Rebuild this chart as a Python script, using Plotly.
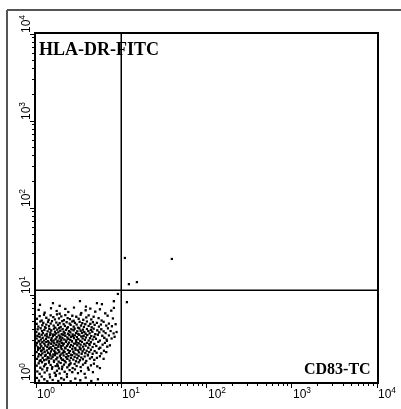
import math
import plotly.graph_objects as go

# Channel values (0-1023 on a 4-decade log scale) for CD83-TC (x) and HLA-DR-FITC (y)
cd83_ch = [
    # FL1 220-240
    12, 51, 71, 132, 150, 183, 198, 234,
    # FL1 200-220
    8, 26, 45, 62, 71, 88, 97, 114, 136, 149, 163, 178, 192, 208, 226,
    # FL1 180-200
    3, 11, 17, 24, 31, 38, 44, 52, 57, 63, 69, 76, 84, 88, 95, 102, 109, 113, 121, 128,
    134, 142, 151, 158, 166, 173, 188, 197, 215, 231,
    # FL1 160-180
    2, 7, 13, 19, 22, 27, 31, 36, 39, 44, 48, 53, 58, 61, 66, 71, 74, 79, 83, 87, 92, 96,
    101, 104, 109, 113, 117, 122, 126, 131, 135, 139, 144, 148, 153, 158, 163, 167, 171,
    176, 183, 189, 195, 203, 211, 219, 228, 239,
    # FL1 140-160
    1, 5, 9, 14, 18, 21, 25, 29, 32, 35, 40, 43, 46, 50, 54, 57, 60, 64, 67, 70, 73, 77,
    80, 83, 86, 90, 93, 96, 99, 103, 106, 110, 113, 116, 120, 124, 127, 130, 134, 138,
    141, 145, 149, 153, 157, 161, 165, 169, 173, 178, 184, 190, 196, 203, 209, 216, 224,
    233, 242,
    # FL1 120-140
    2, 4, 8, 11, 15, 17, 20, 24, 27, 30, 33, 36, 38, 42, 45, 47, 51, 53, 56, 59, 62, 65,
    68, 71, 73, 76, 79, 82, 85, 88, 91, 94, 97, 100, 103, 105, 108, 111, 114, 117, 120,
    123, 127, 130, 133, 136, 140, 143, 147, 150, 154, 158, 162, 166, 170, 175, 180, 186,
    192, 199, 205, 212, 219, 227, 236, 213,
    # FL1 100-120
    1, 3, 6, 10, 13, 16, 19, 22, 25, 28, 31, 34, 37, 40, 43, 46, 49, 52, 55, 58, 61, 64,
    67, 70, 72, 75, 78, 81, 84, 87, 90, 93, 96, 99, 102, 105, 108, 111, 114, 118, 121,
    124, 128, 131, 134, 138, 141, 145, 149, 153, 157, 161, 165, 170, 175, 181, 187, 193,
    200, 207, 214, 222, 160, 118, 76, 44,
    # FL1 80-100
    2, 6, 9, 12, 15, 19, 23, 26, 29, 33, 36, 39, 42, 45, 48, 52, 55, 58, 61, 64, 67, 70,
    74, 77, 80, 83, 86, 89, 92, 96, 99, 102, 105, 109, 112, 115, 119, 122, 126, 129, 133,
    137, 140, 144, 148, 152, 156, 160, 165, 170, 176, 182, 189, 196, 204, 211, 134, 57, 18,
    # FL1 60-80
    3, 7, 11, 15, 20, 24, 27, 31, 35, 39, 43, 46, 50, 54, 57, 61, 64, 68, 72, 75, 79, 83,
    86, 90, 94, 97, 101, 105, 108, 112, 116, 120, 124, 128, 132, 136, 141, 146, 151, 156,
    162, 168, 175, 183, 192, 203, 81, 38, 14,
    # FL1 40-60
    2, 8, 13, 18, 24, 29, 34, 39, 44, 49, 54, 59, 64, 69, 74, 79, 84, 89, 94, 99, 104,
    110, 116, 122, 128, 134, 141, 148, 156, 165, 174, 184, 27, 66, 101, 192,
    # FL1 20-40
    4, 11, 19, 26, 33, 41, 48, 56, 63, 71, 78, 86, 93, 101, 109, 117, 126, 135, 146, 158,
    171, 60,
    # FL1 0-20
    3, 9, 17, 25, 34, 42, 50, 59, 67, 76, 84, 93, 104, 118, 133, 149, 166, 186,
    # events outside the main population
    408, 279, 303, 246, 234, 273, 234, 267,
]

hladr_ch = [
    # FL1 220-240
    227, 232, 224, 238, 222, 232, 229, 238,
    # FL1 200-220
    212, 204, 217, 209, 201, 215, 206, 219, 203, 211, 216, 207, 214, 202, 210,
    # FL1 180-200
    186, 194, 181, 198, 189, 183, 196, 191, 184, 199, 187, 193, 182, 197, 188, 185, 195,
    180, 192, 186, 198, 183, 190, 196, 184, 192, 188, 181, 195, 187,
    # FL1 160-180
    171, 163, 178, 167, 174, 161, 169, 177, 164, 172, 179, 166, 160, 175, 168, 173, 162,
    179, 170, 165, 176, 161, 172, 168, 178, 163, 174, 169, 160, 177, 166, 173, 162, 170,
    178, 165, 171, 161, 176, 168, 174, 163, 169, 177, 166, 172, 164, 170,
    # FL1 140-160
    147, 155, 142, 158, 150, 144, 153, 159, 141, 149, 156, 145, 152, 140, 157, 148, 143,
    154, 146, 159, 151, 141, 156, 148, 144, 153, 158, 142, 150, 146, 155, 140, 152, 157,
    144, 149, 141, 158, 151, 145, 154, 147, 142, 156, 150, 143, 153, 148, 157, 141, 152,
    146, 155, 149, 144, 158, 150, 143, 147,
    # FL1 120-140
    128, 136, 121, 133, 125, 139, 130, 122, 137, 127, 134, 120, 131, 138, 124, 129, 135,
    122, 139, 126, 132, 121, 137, 128, 134, 123, 130, 139, 125, 136, 122, 131, 127, 138,
    124, 133, 120, 135, 129, 137, 123, 132, 126, 139, 121, 134, 128, 136, 124, 131, 138,
    122, 129, 135, 125, 133, 127, 139, 122, 136, 130, 125, 137, 128, 133, 121,
    # FL1 100-120
    108, 115, 102, 119, 111, 105, 117, 100, 113, 107, 118, 103, 110, 116, 101, 112, 119,
    106, 114, 100, 109, 117, 104, 111, 119, 102, 115, 108, 113, 101, 118, 106, 111, 116,
    103, 109, 119, 105, 113, 100, 117, 108, 114, 102, 110, 118, 104, 112, 107, 115, 101,
    109, 117, 103, 112, 106, 118, 101, 110, 115, 104, 108, 112, 113, 106, 102,
    # FL1 80-100
    88, 95, 82, 99, 91, 84, 97, 89, 80, 93, 86, 98, 83, 90, 96, 81, 92, 87, 99, 84, 94,
    89, 81, 97, 85, 92, 88, 99, 82, 94, 86, 91, 80, 97, 89, 84, 95, 81, 93, 87, 98, 83,
    90, 96, 85, 92, 80, 88, 95, 83, 91, 86, 98, 84, 92, 88, 96, 86, 93,
    # FL1 60-80
    68, 75, 62, 79, 71, 64, 77, 66, 73, 61, 78, 69, 74, 63, 79, 67, 72, 60, 76, 70, 65,
    78, 62, 73, 68, 76, 63, 71, 79, 66, 74, 61, 70, 77, 64, 72, 67, 75, 62, 78, 69, 73,
    65, 71, 76, 68, 66, 70, 64,
    # FL1 40-60
    48, 55, 42, 58, 46, 53, 41, 57, 50, 44, 59, 47, 52, 40, 56, 45, 51, 58, 43, 49, 55,
    41, 53, 47, 58, 44, 51, 56, 42, 49, 54, 46, 51, 47, 52, 41,
    # FL1 20-40
    31, 24, 37, 28, 34, 22, 39, 27, 33, 25, 38, 30, 23, 35, 29, 37, 26, 32, 24, 36, 29, 21,
    # FL1 0-20
    12, 4, 16, 8, 2, 14, 6, 18, 3, 11, 7, 15, 2, 10, 5, 13, 3, 8,
    # events outside the main population
    362, 288, 294, 259, 238, 235, 218, 365,
]

decade_labels = ["10<sup>0</sup>", "10<sup>1</sup>", "10<sup>2</sup>", "10<sup>3</sup>", "10<sup>4</sup>"]
x_title = "CD83-TC"
y_title = "HLA-DR-FITC"

# Quadrant cursor positions (channels)
quad_x = 256
quad_y = 270

CH_MAX = 1024
CH_PER_DECADE = 256
major_ticks = [i * CH_PER_DECADE for i in range(5)]
minor_ticks = [d * CH_PER_DECADE + CH_PER_DECADE * math.log10(k) for d in range(4) for k in range(2, 10)]

W, H = 401, 409
L, R, T, B = 36, 24, 34, 27
pw, ph = W - L - R, H - T - B


def px_x(px):
    return (px - L) / pw


def px_y(py):
    return (H - B - py) / ph


fig = go.Figure()
fig.add_trace(go.Scattergl(
    x=cd83_ch, y=hladr_ch, mode="markers",
    marker=dict(symbol="square", size=2.3, color="black", line=dict(width=0)),
    hoverinfo="skip",
))

axis_common = dict(
    range=[0, CH_MAX], showgrid=False, zeroline=False, showline=True,
    linecolor="black", linewidth=1.5, mirror=True,
    tickvals=major_ticks, ticktext=["" for _ in major_ticks],
    ticks="outside", ticklen=4, tickcolor="black", tickwidth=1,
    minor=dict(tickvals=minor_ticks, ticks="outside", ticklen=2, tickcolor="black", tickwidth=1),
    fixedrange=True,
)
fig.update_xaxes(**axis_common)
fig.update_yaxes(**axis_common)

# Quadrant cursors
fig.add_shape(type="line", xref="x", yref="y", x0=quad_x, x1=quad_x, y0=0, y1=CH_MAX,
              line=dict(color="black", width=1.5))
fig.add_shape(type="line", xref="x", yref="y", x0=0, x1=CH_MAX, y0=quad_y, y1=quad_y,
              line=dict(color="black", width=1.5))

# Outer frame (left and top edges)
fig.add_shape(type="line", xref="paper", yref="paper",
              x0=px_x(7), x1=px_x(7), y0=px_y(10), y1=px_y(H + 2),
              line=dict(color="#555555", width=2))
fig.add_shape(type="line", xref="paper", yref="paper",
              x0=px_x(7), x1=px_x(W + 2), y0=px_y(10), y1=px_y(10),
              line=dict(color="#555555", width=2))

annotations = []
label_font = dict(family="Liberation Sans, Arial", size=12, color="black")
for tv, txt in zip(major_ticks, decade_labels):
    annotations.append(dict(
        x=tv, xref="x", y=px_y(384), yref="paper", text=txt, showarrow=False,
        xanchor="left", yanchor="top", font=label_font, borderpad=0,
    ))
    annotations.append(dict(
        x=px_x(34), xref="paper", y=tv, yref="y", text=txt, showarrow=False,
        xanchor="right", yanchor="bottom", textangle=-90, font=label_font, borderpad=0,
    ))

annotations.append(dict(
    x=px_x(38), xref="paper", y=px_y(38), yref="paper", text=f"<b>{y_title}</b>",
    showarrow=False, xanchor="left", yanchor="top",
    font=dict(family="Liberation Serif, Times New Roman", size=18, color="black"), borderpad=0,
))
annotations.append(dict(
    x=px_x(372), xref="paper", y=px_y(378), yref="paper", text=f"<b>{x_title}</b>",
    showarrow=False, xanchor="right", yanchor="bottom",
    font=dict(family="Liberation Serif, Times New Roman", size=16, color="black"), borderpad=0,
))

fig.update_layout(
    width=W, height=H, margin=dict(l=L, r=R, t=T, b=B, pad=0),
    paper_bgcolor="white", plot_bgcolor="white", showlegend=False,
    annotations=annotations,
)

fig.write_html("out.html", config={"displayModeBar": False})
